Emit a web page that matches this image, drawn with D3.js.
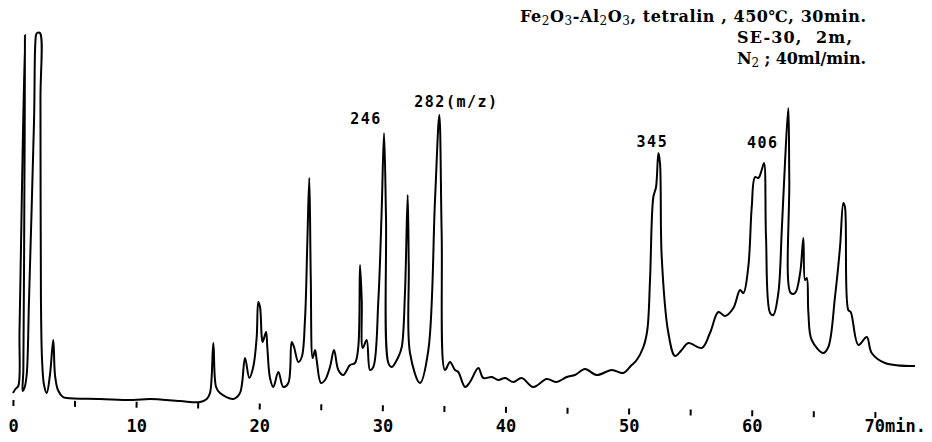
<!DOCTYPE html>
<html>
<head>
<meta charset="utf-8">
<script src="https://cdn.jsdelivr.net/npm/d3@7"></script>
<style>
  body { margin: 0; background: #fff; }
  svg { display: block; }
</style>
</head>
<body>
<div id="chart"></div>
<script>
// retention time (min) and detector signal (arbitrary units)
var times = [0.00, 0.20, 0.43, 0.53, 0.97, 0.92, 0.84, 0.79, 0.93, 1.11, 1.30, 1.71, 1.87, 1.95, 2.19, 2.23, 2.27, 2.36, 2.52, 2.74,
  3.00, 3.27, 3.41, 3.65, 4.06, 4.36, 7.07, 9.75, 11.13, 13.56, 15.19, 15.73, 16.00, 16.27, 16.49, 16.81, 17.89, 18.43, 18.84, 19.19,
  19.51, 19.79, 19.92, 20.06, 20.20, 20.28, 20.55, 20.65, 20.87, 21.14, 21.55, 21.95, 22.36, 22.63, 22.82, 23.17, 23.45, 23.71, 23.90, 24.06,
  24.18, 24.34, 24.53, 24.66, 25.01, 25.34, 25.74, 26.07, 26.42, 26.82, 27.37, 27.77, 28.04, 28.18, 28.32, 28.40, 28.72, 28.99, 29.26, 29.67,
  29.94, 30.13, 30.29, 30.48, 30.75, 31.29, 31.57, 31.83, 32.05, 32.14, 32.24, 33.05, 33.73, 34.27, 34.62, 34.81, 35.08, 35.49, 35.89, 36.16,
  36.71, 37.11, 37.79, 38.19, 38.88, 39.41, 39.96, 40.63, 41.31, 42.25, 43.34, 44.15, 44.97, 45.64, 46.45, 47.40, 48.62, 49.56, 50.24, 50.65,
  51.19, 51.51, 51.73, 52.00, 52.22, 52.41, 52.54, 52.68, 53.22, 53.76, 54.30, 54.84, 55.93, 56.60, 57.28, 57.82, 58.50, 59.04, 59.31, 59.71,
  59.99, 60.26, 60.53, 60.80, 60.99, 61.15, 61.48, 61.74, 62.15, 62.43, 62.69, 62.96, 63.04, 63.16, 63.51, 63.92, 64.18, 64.32, 64.46, 64.59,
  64.86, 65.80, 66.21, 66.75, 67.16, 67.43, 67.56, 67.83, 68.03, 68.65, 69.33, 69.73, 70.81, 73.25];
var signal = [17, 21, 24, 80, 375, 210, 40, 19, 22, 35, 110, 290, 375, 377, 377, 310, 110, 50, 25, 17,
  35, 70, 35, 20, 13, 12, 11, 10, 11, 9, 8, 11, 17, 67, 23, 17, 11, 17, 52, 32,
  43, 73, 108, 103, 73, 68, 78, 63, 32, 23, 38, 23, 27, 68, 63, 48, 53, 90, 167, 232,
  133, 52, 60, 50, 27, 30, 43, 60, 40, 35, 45, 47, 63, 145, 110, 62, 70, 40, 43, 110,
  200, 277, 193, 47, 43, 53, 63, 117, 215, 143, 57, 27, 60, 210, 295, 177, 40, 48, 40, 38,
  23, 28, 42, 32, 33, 30, 32, 28, 32, 23, 31, 28, 33, 35, 41, 35, 40, 37, 45, 50,
  63, 80, 130, 213, 223, 257, 247, 153, 77, 54, 60, 67, 62, 77, 98, 94, 102, 120, 117, 143,
  203, 233, 232, 240, 247, 173, 97, 95, 117, 180, 247, 302, 230, 117, 117, 137, 172, 130, 132, 97,
  70, 57, 63, 113, 163, 207, 203, 100, 98, 65, 73, 57, 47, 44];

var tickMinutes = [0, 5, 10, 15, 20, 25, 30, 35, 40, 45, 50, 55, 60, 65, 70];
var labelMinutes = [0, 10, 20, 30, 40, 50, 60, 70];

// m/z annotations over selected peaks
var peakLabels = ["246", "282(m/z)", "345", "406"];
var peakTimes = [30.13, 34.62, 52.41, 60.99];
var peakSignal = [277, 295, 257, 247];

var header = ["Fe2O3-Al2O3, tetralin , 450℃, 30min.", "SE-30,  2m,", "N2 ; 40ml/min."];

var width = 932, height = 442;

var svg = d3.select("#chart").append("svg")
    .attr("width", width)
    .attr("height", height);

svg.append("rect").attr("width", width).attr("height", height).attr("fill", "#fff");

var x = d3.scaleLinear().domain([0, 70]).range([13, 875]);
var y = d3.scaleLinear().domain([0, 400]).range([410, 10]);

var data = times.map(function (t, i) { return { t: t, v: signal[i] }; });

// trace
svg.append("path")
    .datum(data)
    .attr("fill", "none")
    .attr("stroke", "#000")
    .attr("stroke-width", 2)
    .attr("stroke-linejoin", "round")
    .attr("d", d3.line()
        .curve(d3.curveCatmullRom.alpha(0.5))
        .x(function (d) { return x(d.t); })
        .y(function (d) { return y(d.v); }));

// tick marks, the recorder paper is a little skewed
var tickAxis = svg.append("g")
    .attr("transform", "translate(0,400) rotate(0.8," + x(0) + ",0)")
    .call(d3.axisBottom(x).tickValues(tickMinutes).tickSize(6).tickFormat(""));
tickAxis.select(".domain").remove();
tickAxis.selectAll(".tick line").attr("stroke", "#000").attr("stroke-width", 2);

// minute labels
var labelAxis = svg.append("g")
    .call(d3.axisBottom(x).tickValues(labelMinutes).tickSize(0)
        .tickFormat(function (d) { return d === 70 ? "70min." : d; }));
labelAxis.select(".domain").remove();
labelAxis.selectAll(".tick text")
    .attr("y", 432)
    .attr("dy", 0)
    .attr("fill", "#000")
    .style("font-family", "'DejaVu Sans Mono', monospace")
    .style("font-size", "17px")
    .style("font-weight", "bold");
labelAxis.selectAll(".tick text")
    .filter(function (d) { return d === 70; })
    .attr("text-anchor", "start")
    .attr("x", -11);

// peak annotations
var labelDx = [-18, -25, -6, -17];
var labelDy = [-9, -8, -6, -15];
var labelAnchor = ["middle", "start", "middle", "start"];
svg.selectAll(".peak")
    .data(peakLabels)
    .enter().append("text")
    .attr("class", "peak")
    .attr("x", function (d, i) { return x(peakTimes[i]) + labelDx[i]; })
    .attr("y", function (d, i) { return y(peakSignal[i]) + labelDy[i]; })
    .attr("text-anchor", function (d, i) { return labelAnchor[i]; })
    .style("font-family", "'DejaVu Sans Mono', monospace")
    .style("font-size", "15px")
    .style("font-weight", "bold")
    .style("letter-spacing", "1.5px")
    .text(function (d) { return d; });

// conditions header; a digit right after a letter is a subscript (Fe2O3, N2)
function writeRich(sel, str) {
    var segs = [];
    for (var i = 0; i < str.length; i++) {
        var c = str[i];
        var sub = /\d/.test(c) && i > 0 && /[A-Za-z]/.test(str[i - 1]);
        if (segs.length && segs[segs.length - 1].sub === sub) segs[segs.length - 1].s += c;
        else segs.push({ s: c, sub: sub });
    }
    segs.forEach(function (g, k) {
        var ts = sel.append("tspan").text(g.s);
        if (g.sub) ts.attr("font-size", "12px").attr("font-weight", "normal").attr("dy", 3);
        else if (k > 0) ts.attr("dy", -3);
    });
}

var headX = [520, 737, 737];
var headY = [22, 43, 64];
var headLen = [346, 115, 129];
header.forEach(function (line, i) {
    var t = svg.append("text")
        .attr("x", headX[i])
        .attr("y", headY[i])
        .attr("fill", "#000")
        .attr("textLength", headLen[i])
        .attr("lengthAdjust", "spacing")
        .style("font-family", "'DejaVu Serif', 'Noto Sans CJK JP', serif")
        .style("font-size", "16px")
        .style("font-weight", "bold")
        .style("white-space", "pre");
    writeRich(t, line);
});
</script>
</body>
</html>
